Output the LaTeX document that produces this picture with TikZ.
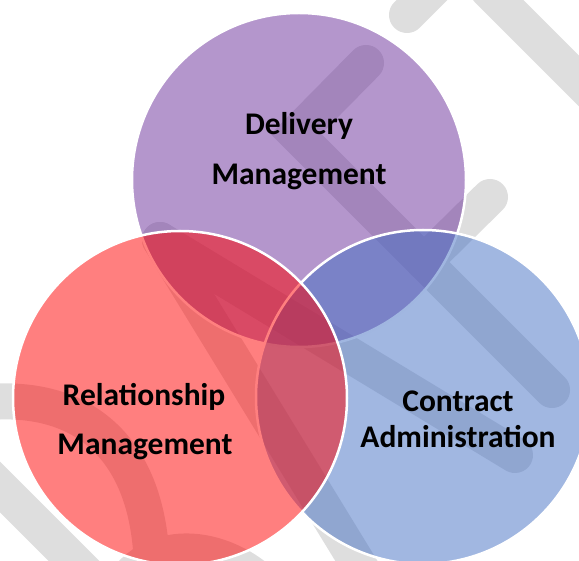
\documentclass[tikz,border=0pt]{standalone}
\usepackage{fontspec}
\setmainfont{Carlito}
\usetikzlibrary{positioning}
\definecolor{wmgrey}{RGB}{222,222,222}
\definecolor{delivcol}{RGB}{105,45,153}
\definecolor{contrcol}{RGB}{67,111,195}
\definecolor{relcol}{RGB}{255,0,0}

\begin{document}
\begin{tikzpicture}[x=1pt,y=-1pt,
    circ/.style={fill opacity=0.5, draw=white, line width=2.5pt},
    band/.style={wmgrey, line width=36pt, line cap=round, line join=round},
    lbl/.style={font=\fontsize{31.5}{36}\selectfont\bfseries, inner sep=0pt, anchor=base}]

  \def\r{167};

  \useasboundingbox (0,0) rectangle (579,561);
  \clip (0,0) rectangle (579,561);

  %watermark behind the circles
  \draw[band] (407,15) -- (450,-28);
  \draw[band] (488,-10) -- (600,102);
  \draw[band, line join=miter] (366,63) -- (296,134) -- (552,390);
  \draw[band] (424,262) -- (490,197);
  \draw[band] (160,240) -- (515,455);
  \draw[band] (160,240) -- (365,575);
  \draw[band] (-10,402) .. controls (85,395) and (152,450) .. (152,575);
  \draw[band] (115,600) .. controls (140,538) and (215,538) .. (265,585);
  \draw[band] (-20,467) -- (110,597);

  %circles
  \foreach \x/\y/\col in {299/180/delivcol, 423/397/contrcol, 180/398/relcol}{
      \draw[circ, fill=\col] (\x,\y) circle[radius=\r];
  }

  %labels
  \foreach \name/\x/\y/\txt in {dlv1/299/135/Delivery, dlv2/299/185/Management,
      rel1/144/406/Relationship, rel2/145/455/Management,
      con1/458/412/Contract, con2/458/448/Administration}{
      \node[lbl] (\name) at (\x,\y) {\txt};
  }

\end{tikzpicture}
\end{document}
